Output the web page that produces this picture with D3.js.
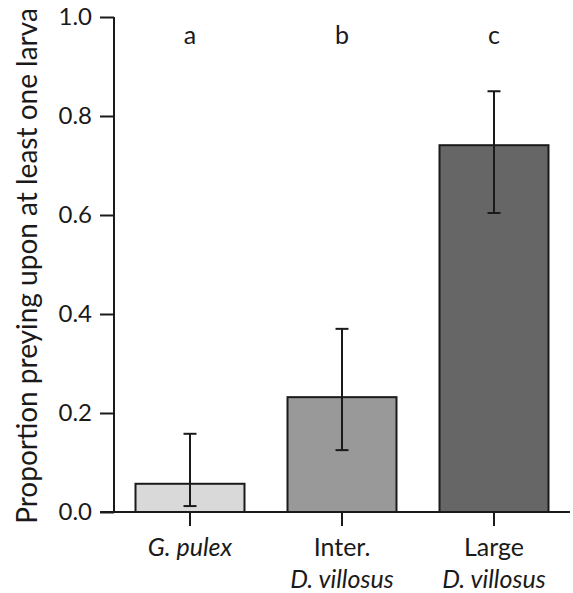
<!DOCTYPE html>
<html><head><meta charset="utf-8">
<script src="https://cdn.jsdelivr.net/npm/d3@7"></script>
<style>body{margin:0;background:#fff}text{font-family:Lato,"Open Sans",sans-serif;fill:#1a1a1a}</style>
</head><body>
<svg id="c" width="573" height="593"></svg>
<script>
const categories = ["G. pulex", "Inter. D. villosus", "Large D. villosus"];
const labelLine1 = ["G. pulex", "Inter.", "Large"];
const labelLine1Italic = [true, false, false];
const labelLine2 = ["", "D. villosus", "D. villosus"];
const values = [0.057, 0.232, 0.741];
const ciLow = [0.012, 0.125, 0.604];
const ciHigh = [0.158, 0.370, 0.850];
const letters = ["a", "b", "c"];
const fills = ["#d9d9d9", "#999999", "#666666"];
const yTicks = [0, 0.2, 0.4, 0.6, 0.8, 1.0];

const svg = d3.select("#c");
const x = d3.scaleBand().domain(categories).range([114, 570]).paddingInner(0.283).paddingOuter(0.1415);
const y = d3.scaleLinear().domain([0, 1]).range([512, 17]);
const ink = "#1a1a1a";
const fs = 24;
const fsx = 25;

// bars
svg.selectAll("rect.bar").data(categories).join("rect")
  .attr("x", d => x(d)).attr("y", (d,i) => y(values[i]))
  .attr("width", x.bandwidth()).attr("height", (d,i) => y(0) - y(values[i]))
  .attr("fill", (d,i) => fills[i]).attr("stroke", ink).attr("stroke-width", 2);

// error bars
const cx = d => x(d) + x.bandwidth()/2;
const eg = svg.append("g").attr("stroke", ink).attr("stroke-width", 2);
categories.forEach((d,i) => {
  eg.append("line").attr("x1", cx(d)).attr("x2", cx(d)).attr("y1", y(ciLow[i])).attr("y2", y(ciHigh[i]));
  eg.append("line").attr("x1", cx(d)-6.5).attr("x2", cx(d)+6.5).attr("y1", y(ciLow[i])).attr("y2", y(ciLow[i]));
  eg.append("line").attr("x1", cx(d)-6.5).attr("x2", cx(d)+6.5).attr("y1", y(ciHigh[i])).attr("y2", y(ciHigh[i]));
});

// y axis
const ya = svg.append("g").attr("transform", "translate(114,0)")
  .call(d3.axisLeft(y).tickValues(yTicks).tickFormat(d3.format(".1f")).tickSize(14).tickPadding(8));
ya.attr("font-size", fs).attr("font-family", "Lato");
ya.select(".domain").attr("d", `M0,${y(1)}V${y(0)}`).attr("stroke", ink).attr("stroke-width", 2);
ya.selectAll(".tick line").attr("stroke", ink).attr("stroke-width", 2);
ya.selectAll(".tick text").style("font-size", fs + "px").attr("fill", ink);

// x axis
const xa = svg.append("g").attr("transform", `translate(0,${y(0)})`)
  .call(d3.axisBottom(x).tickSize(14).tickFormat(""));
xa.select(".domain").attr("d", "M100,0H570").attr("stroke", ink).attr("stroke-width", 2);
xa.selectAll(".tick line").attr("stroke", ink).attr("stroke-width", 2);

// x labels
categories.forEach((d,i) => {
  svg.append("text").attr("x", cx(d)).attr("y", 556).attr("text-anchor", "middle")
    .style("font-size", fsx + "px").attr("font-style", labelLine1Italic[i] ? "italic" : "normal").text(labelLine1[i]);
  if (labelLine2[i]) svg.append("text").attr("x", cx(d)).attr("y", 588).attr("text-anchor", "middle")
    .style("font-size", fsx + "px").attr("font-style", "italic").text(labelLine2[i]);
  svg.append("text").attr("x", cx(d)).attr("y", 44).attr("text-anchor", "middle")
    .style("font-size", fsx + "px").text(letters[i]);
});

// y title
svg.append("text").attr("transform", "translate(37,266) rotate(-90)").attr("text-anchor", "middle")
  .style("font-size", "28px").text("Proportion preying upon at least one larva");
</script>
</body></html>
